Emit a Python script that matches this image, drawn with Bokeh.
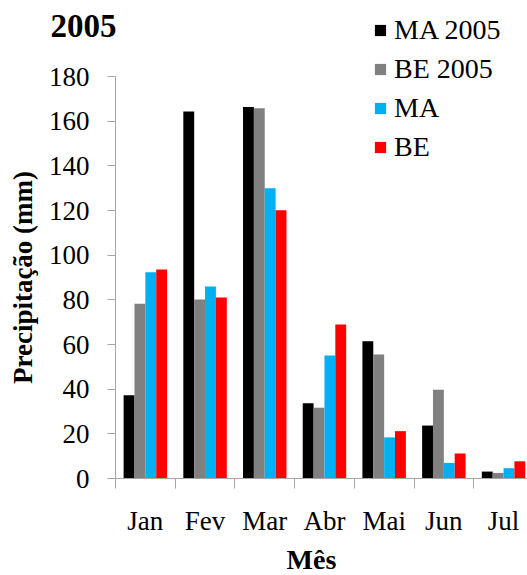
from bokeh.plotting import figure
from bokeh.models import ColumnDataSource, FixedTicker, Legend, LegendItem, Range1d, Label
from bokeh.transform import dodge
from bokeh.embed import file_html
from bokeh.resources import INLINE

months = ["Jan", "Fev", "Mar", "Abr", "Mai", "Jun", "Jul"]
ma_2005 = [37.3, 164.3, 166.3, 33.7, 61.5, 23.7, 3.1]
be_2005 = [78.2, 80.1, 165.8, 31.7, 55.5, 39.7, 2.5]
ma_mean = [92.4, 86.0, 130.0, 55.1, 18.4, 7.0, 4.6]
be_mean = [93.6, 81.0, 120.1, 69.0, 21.2, 11.2, 7.7]
series_names = ["MA 2005", "BE 2005", "MA", "BE"]
colors = ["#000000", "#808080", "#00b0f0", "#ff0000"]
y_ticks = [0, 20, 40, 60, 80, 100, 120, 140, 160, 180]

FONT = "Liberation Serif"
W, H = 527, 575
# plot area placement (pixels): left edge, axis baseline, top of value axis, category width
PL, PB, PT, CW = 115, 478, 76, 59.7
n = len(months)
ymax = y_ticks[-1]
px_y = (PB - PT) / ymax

pos = [i + 0.5 for i in range(n)]
source = ColumnDataSource(dict(x=pos, ma_2005=ma_2005, be_2005=be_2005,
                               ma_mean=ma_mean, be_mean=be_mean))

p = figure(width=W, height=H, output_backend="svg", toolbar_location=None,
           x_range=Range1d(-PL / CW, (W - PL) / CW),
           y_range=Range1d(-(H - PB) / px_y, PB / px_y),
           min_border_left=0, min_border_right=0, min_border_top=0,
           min_border_bottom=0)
p.outline_line_color = None
p.grid.grid_line_color = None
p.background_fill_color = "white"

cols = ["ma_2005", "be_2005", "ma_mean", "be_mean"]
offsets = [-0.273, -0.091, 0.091, 0.273]
renderers = []
for col, off, c in zip(cols, offsets, colors):
    r = p.vbar(x=dodge("x", off), top=col, width=0.182, source=source,
               fill_color=c, line_color=None)
    renderers.append(r)

# x axis
xa = p.xaxis[0]
xa.fixed_location = 0
xa.bounds = (0, n)
xa.ticker = FixedTicker(ticks=pos, minor_ticks=list(range(n + 1)))
xa.major_label_overrides = {p_: m for p_, m in zip(pos, months)}
xa.major_tick_line_color = None
xa.major_tick_out = 0
xa.major_tick_in = 0
xa.minor_tick_line_color = "#a6a6a6"
xa.minor_tick_out = 10
xa.minor_tick_in = 0
xa.axis_line_color = "#a6a6a6"
xa.major_label_standoff = 17
xa.major_label_text_font = FONT
xa.major_label_text_font_size = "27px"
xa.major_label_text_color = "black"

# x axis title
p.add_layout(Label(x=311, y=H - 559.2, x_units="screen", y_units="screen", text="Mês",
                   text_font=FONT, text_font_size="28px", text_font_style="bold",
                   text_color="black", text_baseline="alphabetic", text_align="center"))

# y axis
ya = p.yaxis[0]
ya.fixed_location = 0
ya.bounds = (0, ymax)
ya.ticker = FixedTicker(ticks=y_ticks)
ya.minor_tick_line_color = None
ya.major_tick_line_color = "#a6a6a6"
ya.major_tick_out = 8
ya.major_tick_in = 0
ya.axis_line_color = "#a6a6a6"
ya.major_label_standoff = 18
ya.major_label_text_font = FONT
ya.major_label_text_font_size = "27px"
ya.major_label_text_color = "black"
ya.axis_label = "Precipitação (mm)"
ya.axis_label_text_font = FONT
ya.axis_label_text_font_size = "27px"
ya.axis_label_text_font_style = "bold"
ya.axis_label_text_color = "black"
ya.axis_label_standoff = 8

# title
p.add_layout(Label(x=50, y=H - 25.8, x_units="screen", y_units="screen", text="2005",
                   text_font=FONT, text_font_size="33px", text_font_style="bold",
                   text_color="black", text_baseline="alphabetic", text_align="left"))

legend = Legend(items=[LegendItem(label=s, renderers=[r]) for s, r in zip(series_names, renderers)],
                location=(373, H - 166), orientation="vertical",
                label_text_font=FONT, label_text_font_size="28px",
                label_text_color="black",
                glyph_width=14, glyph_height=14, label_height=39, spacing=0,
                label_standoff=7, padding=0, margin=0,
                border_line_color=None, background_fill_alpha=0)
p.add_layout(legend, "center")

open("out.html", "w").write(file_html(p, INLINE))
